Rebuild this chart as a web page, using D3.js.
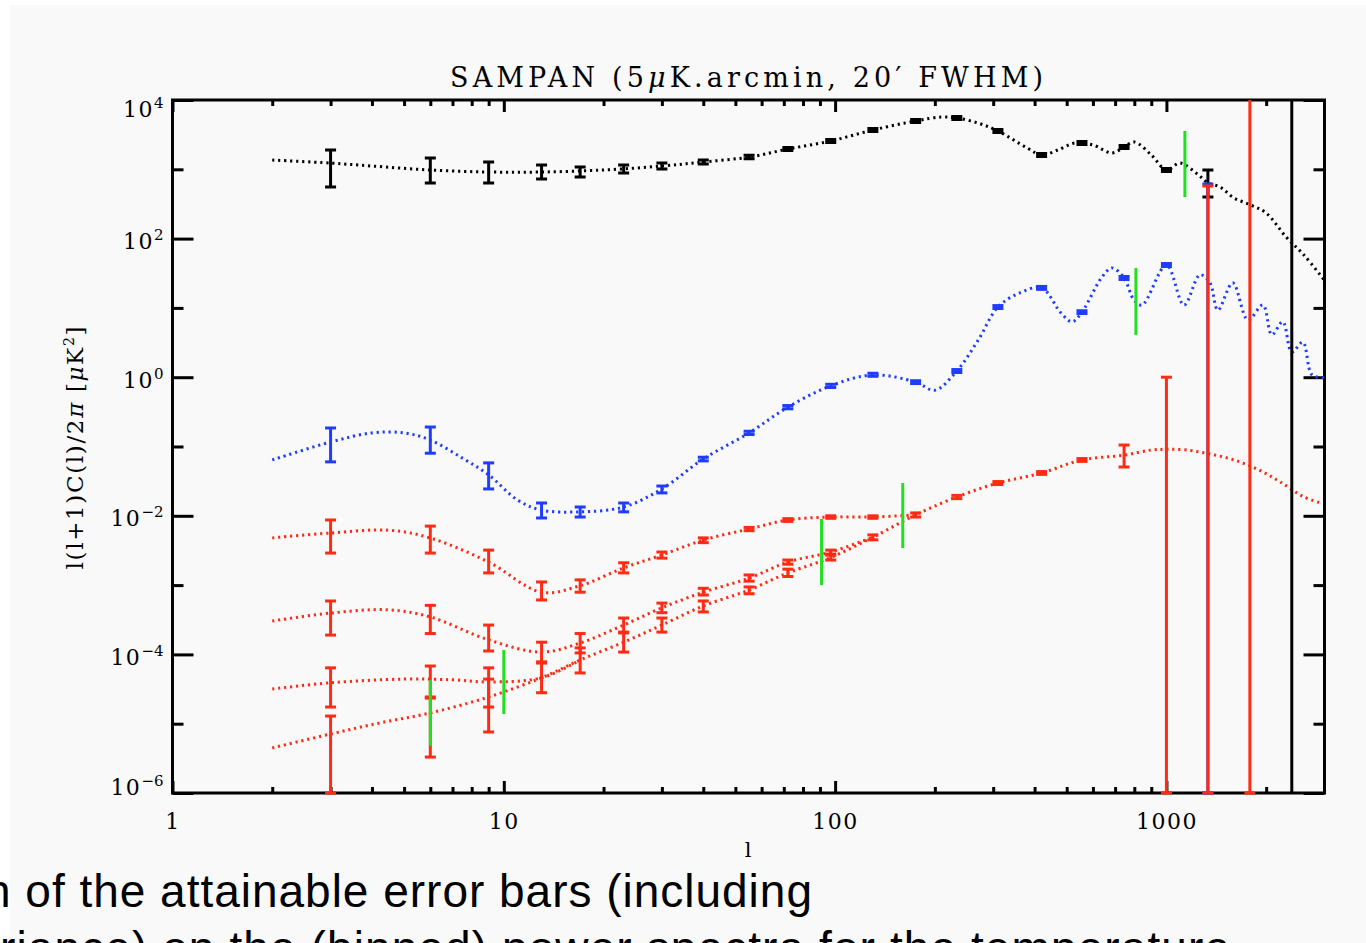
<!DOCTYPE html>
<html>
<head>
<meta charset="utf-8">
<script src="https://cdn.jsdelivr.net/npm/d3@7"></script>
<style>
  html, body { margin: 0; padding: 0; background: #fff; overflow: hidden; }
  svg { display: block; }
</style>
</head>
<body>
<div id="chart"></div>
<script>
// multipole bins used for the binned spectra
const bins = [3, 6, 9, 13, 17, 23, 30, 40, 55, 72, 97, 130, 175, 233, 310, 420, 556, 745, 1000, 1334]
const lensBins = [3, 6, 9, 13, 17, 23, 30, 40, 55, 72, 97, 130, 175, 233, 310, 420, 556, 745, 1000, 1334, 1786]

// temperature (black)
const ttVal = [1230, 977, 914, 914, 945, 1010, 1115, 1275, 1500, 1960, 2560, 3690, 4980, 5500, 3570, 1610, 2400, 2100, 977, 634]
const ttHi = [1900, 1455, 1275, 1153, 1078, 1153, 1230, 1360, 1590, 2060, 2690, 3880, 5230, 5780, 3750, 1690, 2520, 2210, 1030, 977]
const ttLo = [556, 634, 634, 725, 774, 885, 1010, 1190, 1415, 1870, 2440, 3510, 4740, 5230, 3400, 1530, 2280, 2000, 930, 399]

// E polarisation (blue)
const eeVal = [0.116, 0.124, 0.039, 0.0121, 0.0114, 0.0134, 0.0244, 0.066, 0.157, 0.37, 0.75, 1.08, 0.85, 1.23, 10.3, 19.4, 8.7, 27, 41.6, 23]
const eeHi = [0.185, 0.191, 0.058, 0.0153, 0.0134, 0.0153, 0.0269, 0.070, 0.166, 0.39, 0.79, 1.14, 0.89, 1.29, 10.8, 20.4, 9.1, 28.4, 43.7, 614]
const eeLo = [0.060, 0.080, 0.0244, 0.0093, 0.0096, 0.0114, 0.0214, 0.062, 0.149, 0.35, 0.71, 1.03, 0.81, 1.17, 9.8, 18.5, 8.3, 25.7, 39.6, 1e-6]

// B polarisation (red), three primordial levels + lensing
const bb1Val = [0.00565, 0.00478, 0.00215, 0.00079, 0.00098, 0.00177, 0.00272, 0.00447, 0.00645, 0.0087, 0.0096, 0.0096]
const bb1Hi = [0.0087, 0.0071, 0.0032, 0.00111, 0.00119, 0.0021, 0.0030, 0.0048, 0.0068, 0.0091, 0.0100, 0.0100]
const bb1Lo = [0.0029, 0.0029, 0.0015, 0.00061, 0.00079, 0.0015, 0.00245, 0.0041, 0.0061, 0.0083, 0.0092, 0.0092]

const bb2Val = [3.95e-4, 3.47e-4, 1.62e-4, 1.08e-4, 1.46e-4, 2.65e-4, 4.7e-4, 7.9e-4, 1.26e-3, 2.15e-3, 3.0e-3]
const bb2Hi = [5.9e-4, 5.1e-4, 2.65e-4, 1.5e-4, 2.0e-4, 3.35e-4, 5.5e-4, 9.0e-4, 1.4e-3, 2.3e-3, 3.2e-3]
const bb2Lo = [1.9e-4, 2.0e-4, 1.12e-4, 7.8e-5, 1.05e-4, 2.1e-4, 4.0e-4, 7.2e-4, 1.14e-3, 2.0e-3, 2.8e-3]

const bb3Val = [3.9e-5, 4.3e-5, 4.0e-5]
const bb3Hi = [6.4e-5, 6.8e-5, 6.4e-5]
const bb3Lo = [1.74e-5, 2.43e-5, 1.74e-5]

const lensVal = [7.1e-6, 1.43e-5, 2.43e-5, 4.6e-5, 8.3e-5, 1.5e-4, 2.65e-4, 5.0e-4, 8.5e-4, 1.5e-3, 2.5e-3, 4.9e-3, 0.0103, 0.0187, 0.0297, 0.0415, 0.064, 0.075, 0.091, 0.078, 0.060]
const lensHi = [1.29e-5, 2.34e-5, 4.4e-5, 7.5e-5, 1.24e-4, 2.04e-4, 3.35e-4, 5.9e-4, 9.4e-4, 1.7e-3, 2.7e-3, 5.3e-3, 0.0110, 0.0197, 0.0312, 0.0435, 0.067, 0.105, 1.0, 575, 1e5]
const lensLo = [1e-6, 3.3e-6, 7.6e-6, 2.8e-5, 5.4e-5, 1.08e-4, 2.1e-4, 4.1e-4, 7.5e-4, 1.33e-3, 2.3e-3, 4.5e-3, 0.0096, 0.0177, 0.0283, 0.0396, 0.061, 0.0506, 1e-6, 1e-6, 1e-6]

// model curves (dotted)
const ttCurveL = [2, 3, 4, 6, 9, 13, 20, 30, 40, 55, 72, 97, 130, 175, 210, 233, 270, 310, 380, 420, 470, 530, 600, 685, 745, 800, 900, 1000, 1100, 1250, 1334, 1450, 1600, 1800, 2000, 2300, 2600, 3000]
const ttCurveV = [1360, 1230, 1115, 977, 914, 914, 977, 1115, 1275, 1500, 1960, 2560, 3690, 4980, 5690, 5500, 4650, 3570, 2030, 1610, 1900, 2400, 2245, 1720, 2100, 2480, 1610, 977, 1230, 828, 634, 556, 385, 305, 234, 105, 58, 25]

const eeCurveL = [2, 3, 4, 5, 6, 7.5, 9, 11, 13, 17, 23, 30, 40, 55, 72, 97, 130, 175, 200, 233, 270, 310, 360, 420, 481, 519, 556, 639, 685, 745, 798, 844, 1000, 1130, 1262, 1353, 1430, 1585, 1762, 1955, 2080, 2245, 2390, 2580, 2750, 3000]
const eeCurveV = [0.064, 0.116, 0.157, 0.157, 0.124, 0.068, 0.039, 0.0169, 0.0121, 0.0114, 0.0134, 0.0244, 0.066, 0.157, 0.37, 0.75, 1.08, 0.85, 0.65, 1.23, 3.4, 10.3, 16.4, 19.4, 8.4, 6.3, 8.7, 27.9, 37.7, 27, 13, 11, 41.6, 11, 30, 23, 9.3, 23, 6.7, 11, 4.1, 6.3, 2.3, 3.2, 1.08, 0.98]

const bb1CurveL = [2, 3, 4.5, 6, 9, 13, 17, 23, 30, 40, 55, 72, 97, 130, 175]
const bb1CurveV = [0.0048, 0.00565, 0.0062, 0.00478, 0.00215, 0.00079, 0.00098, 0.00177, 0.00272, 0.00447, 0.00645, 0.0087, 0.0096, 0.0096, 0.0103]

const bb2CurveL = [2, 3, 4.5, 6, 9, 13, 17, 23, 30, 40, 55, 72, 97, 130]
const bb2CurveV = [3.03e-4, 3.95e-4, 4.4e-4, 3.47e-4, 1.62e-4, 1.08e-4, 1.46e-4, 2.65e-4, 4.7e-4, 7.9e-4, 1.26e-3, 2.15e-3, 3.0e-3, 4.9e-3]

const bb3CurveL = [2, 3, 5, 7, 9, 13, 17]
const bb3CurveV = [3.16e-5, 3.9e-5, 4.4e-5, 4.3e-5, 4.0e-5, 4.6e-5, 8.3e-5]

const lensCurveL = [2, 3, 4.2, 6, 9, 13, 17, 23, 30, 40, 55, 72, 97, 130, 175, 233, 310, 420, 556, 745, 900, 1000, 1150, 1350, 1600, 1900, 2200, 2600, 2900]
const lensCurveV = [4.47e-6, 7.1e-6, 1.02e-5, 1.43e-5, 2.43e-5, 4.6e-5, 8.3e-5, 1.5e-4, 2.65e-4, 5.0e-4, 8.5e-4, 1.5e-3, 2.5e-3, 4.9e-3, 0.0103, 0.0187, 0.0297, 0.0415, 0.064, 0.075, 0.089, 0.091, 0.089, 0.078, 0.064, 0.046, 0.031, 0.0187, 0.0155]

// green markers
const greenL = [6, 10, 91, 160, 809, 1137]
const greenLo = [4.8e-6, 1.38e-5, 0.001, 0.00343, 4.07, 398]
const greenHi = [4.27e-5, 1.16e-4, 0.009, 0.0297, 37.7, 3570]

// vertical black marker
const lMax = 2390

// axis ticks
const xMajor = [1, 10, 100, 1000]
const xMinor = [2, 3, 4, 5, 6, 7, 8, 9, 20, 30, 40, 50, 60, 70, 80, 90, 200, 300, 400, 500, 600, 700, 800, 900, 2000]
const yMajor = [1e-6, 1e-4, 1e-2, 1, 1e2, 1e4]
const yMinor = [1e-5, 1e-3, 1e-1, 1e1, 1e3]

const title = 'SAMPAN (5'
const caption1 = 'n of the attainable error bars (including'
const caption2 = 'riance) on the (binned) power spectra for the temperature'

const serif = "'DejaVu Serif', serif"
const colors = { tt: '#000000', ee: '#1f3cff', bb: '#ff2b14', green: '#22e022' }

const width = 1366, height = 943
const margin = { top: 100, right: 41.5, bottom: 150, left: 172.5 }

const svg = d3.select('#chart').append('svg')
	.attr('width', width)
	.attr('height', height)

svg.append('rect')
	.attr('x', 10).attr('y', 5)
	.attr('width', width - 10).attr('height', height - 5)
	.attr('fill', '#f9f9f9')

const x = d3.scaleLog().domain([1, 3000]).range([margin.left, width - margin.right])
const y = d3.scaleLog().domain([1e-6, 1e4]).range([height - margin.bottom, margin.top])

const [x0, x1] = x.range()
const [yb, yt] = y.range()

/**
 * Axes
 */
const styleAxis = (g) => {
	g.select('.domain').remove()
	g.attr('font-family', serif).attr('font-size', 22)
	g.selectAll('line').attr('stroke-width', 3)
	g.selectAll('text').attr('letter-spacing', 1.5)
}

svg.append('g').attr('transform', `translate(0,${yb})`)
	.call(d3.axisBottom(x).tickValues(xMajor).tickSize(-12).tickPadding(20).tickFormat(d3.format('d')))
	.call(styleAxis)
svg.append('g').attr('transform', `translate(0,${yb})`)
	.call(d3.axisBottom(x).tickValues(xMinor).tickSize(-6).tickFormat(''))
	.call(styleAxis)
svg.append('g').attr('transform', `translate(0,${yt})`)
	.call(d3.axisTop(x).tickValues(xMajor).tickSize(-12).tickFormat(''))
	.call(styleAxis)
svg.append('g').attr('transform', `translate(0,${yt})`)
	.call(d3.axisTop(x).tickValues(xMinor).tickSize(-6).tickFormat(''))
	.call(styleAxis)

svg.append('g').attr('transform', `translate(${x0},0)`)
	.call(d3.axisLeft(y).tickValues(yMajor).tickSize(-21).tickFormat(''))
	.call(styleAxis)
svg.append('g').attr('transform', `translate(${x0},0)`)
	.call(d3.axisLeft(y).tickValues(yMinor).tickSize(-11).tickFormat(''))
	.call(styleAxis)
svg.append('g').attr('transform', `translate(${x1},0)`)
	.call(d3.axisRight(y).tickValues(yMajor).tickSize(-21).tickFormat(''))
	.call(styleAxis)
svg.append('g').attr('transform', `translate(${x1},0)`)
	.call(d3.axisRight(y).tickValues(yMinor).tickSize(-11).tickFormat(''))
	.call(styleAxis)

// y labels as 10^n, kept inside the frame height
const yLabels = svg.append('g')
	.attr('font-family', serif)
	.attr('font-size', 22)
	.attr('text-anchor', 'end')
	.attr('fill', '#000')
yMajor.forEach(v => {
	const t = yLabels.append('text')
		.attr('x', x0 - 9)
		.attr('y', Math.min(Math.max(y(v) + 10.5, yt + 17), yb + 2))
	t.append('tspan').attr('letter-spacing', 1.5).text('10')
	t.append('tspan').attr('font-size', 15).attr('dy', -9)
		.text(String(Math.round(Math.log10(v))).replace('-', '\u2212'))
})

svg.append('rect')
	.attr('x', x0).attr('y', yt)
	.attr('width', x1 - x0).attr('height', yb - yt)
	.attr('fill', 'none')
	.attr('stroke', '#000')
	.attr('stroke-width', 3)

/**
 * Titles
 */
const tt = svg.append('text')
	.attr('x', 746.5).attr('y', 87)
	.attr('text-anchor', 'middle')
	.attr('font-family', serif)
	.attr('font-size', 27)
	.attr('textLength', 593)
	.attr('lengthAdjust', 'spacing')
tt.append('tspan').text(title)
tt.append('tspan').attr('font-style', 'italic').text('\u03bc')
tt.append('tspan').text('K.arcmin, 20\u2032 FWHM)')

svg.append('text')
	.attr('x', 748).attr('y', 857)
	.attr('text-anchor', 'middle')
	.attr('font-family', serif)
	.attr('font-size', 21)
	.text('l')

const yt1 = svg.append('text')
	.attr('transform', 'translate(83,448) rotate(-90)')
	.attr('text-anchor', 'middle')
	.attr('font-family', serif)
	.attr('font-size', 23)
	.attr('textLength', 243)
	.attr('lengthAdjust', 'spacing')
yt1.append('tspan').text('l(l+1)C(l)/2')
yt1.append('tspan').attr('font-style', 'italic').text('\u03c0')
yt1.append('tspan').text(' [')
yt1.append('tspan').attr('font-style', 'italic').text('\u03bc')
yt1.append('tspan').text('K')
yt1.append('tspan').attr('font-size', 14).attr('dy', -9).text('2')
yt1.append('tspan').attr('dy', 9).text(']')

/**
 * Model curves
 */
const line = d3.line()
	.x(d => x(d[0]))
	.y(d => y(d[1]))
	.curve(d3.curveCatmullRom.alpha(0.5))

const curves = [
	[ttCurveL, ttCurveV, colors.tt],
	[eeCurveL, eeCurveV, colors.ee],
	[bb1CurveL, bb1CurveV, colors.bb],
	[bb2CurveL, bb2CurveV, colors.bb],
	[bb3CurveL, bb3CurveV, colors.bb],
	[lensCurveL, lensCurveV, colors.bb]
]
svg.append('g').selectAll('path')
	.data(curves)
	.enter().append('path')
	.attr('d', d => line(d3.zip(d[0], d[1])))
	.attr('fill', 'none')
	.attr('stroke', d => d[2])
	.attr('stroke-width', 3)
	.attr('stroke-dasharray', '2.2 3.8')

/**
 * Error bars
 */
svg.append('clipPath').attr('id', 'plotclip')
	.append('rect')
	.attr('x', x0 - 20).attr('y', yt)
	.attr('width', x1 - x0 + 40).attr('height', yb - yt + 6)

const barsG = svg.append('g').attr('clip-path', 'url(#plotclip)')
const capW = 11

const drawBars = (ls, vals, los, his, color) => {
	const rows = ls.map((l, i) => ({ l, v: vals[i], lo: los[i], hi: his[i] }))
	const g = barsG.append('g')
		.attr('stroke', color)
		.attr('stroke-width', 3)
	g.selectAll('.bar').data(rows).enter().append('line')
		.attr('x1', d => x(d.l)).attr('x2', d => x(d.l))
		.attr('y1', d => y(d.lo)).attr('y2', d => y(d.hi))
	g.selectAll('.capHi').data(rows).enter().append('line')
		.attr('x1', d => x(d.l) - capW / 2).attr('x2', d => x(d.l) + capW / 2)
		.attr('y1', d => y(d.hi)).attr('y2', d => y(d.hi))
	g.selectAll('.capLo').data(rows).enter().append('line')
		.attr('x1', d => x(d.l) - capW / 2).attr('x2', d => x(d.l) + capW / 2)
		.attr('y1', d => y(d.lo)).attr('y2', d => y(d.lo))
}

drawBars(bins, ttVal, ttLo, ttHi, colors.tt)
drawBars(bins, eeVal, eeLo, eeHi, colors.ee)
drawBars(bins.slice(0, bb1Val.length), bb1Val, bb1Lo, bb1Hi, colors.bb)
drawBars(bins.slice(0, bb2Val.length), bb2Val, bb2Lo, bb2Hi, colors.bb)
drawBars(bins.slice(0, bb3Val.length), bb3Val, bb3Lo, bb3Hi, colors.bb)
drawBars(lensBins, lensVal, lensLo, lensHi, colors.bb)

// green markers
barsG.append('g').selectAll('line')
	.data(greenL.map((l, i) => ({ l, lo: greenLo[i], hi: greenHi[i] })))
	.enter().append('line')
	.attr('x1', d => x(d.l)).attr('x2', d => x(d.l))
	.attr('y1', d => y(d.lo)).attr('y2', d => y(d.hi))
	.attr('stroke', colors.green)
	.attr('stroke-width', 3)

svg.append('line')
	.attr('x1', x(lMax)).attr('x2', x(lMax))
	.attr('y1', yt).attr('y2', yb)
	.attr('stroke', '#000')
	.attr('stroke-width', 3)

/**
 * Slide caption
 */
svg.append('text')
	.attr('x', -15).attr('y', 907)
	.attr('font-family', "'Liberation Sans', Arial, sans-serif")
	.attr('font-size', 46)
	.attr('textLength', 827)
	.attr('lengthAdjust', 'spacing')
	.text(caption1)
svg.append('text')
	.attr('x', 0).attr('y', 964)
	.attr('font-family', "'Liberation Sans', Arial, sans-serif")
	.attr('font-size', 46)
	.attr('textLength', 1230)
	.attr('lengthAdjust', 'spacing')
	.text(caption2)
</script>
</body>
</html>
